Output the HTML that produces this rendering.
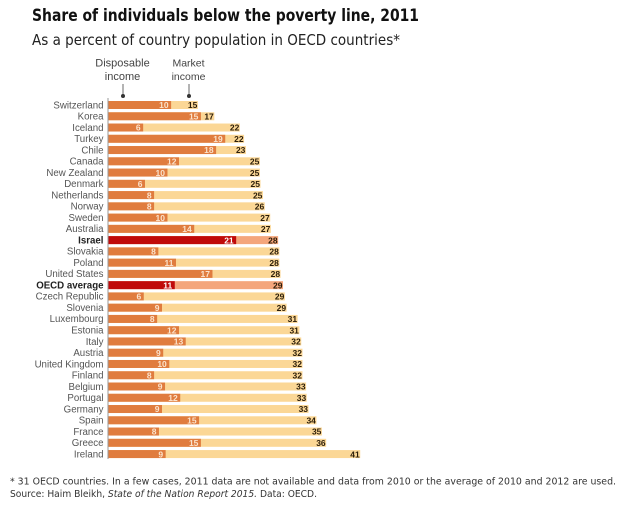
<!DOCTYPE html>
<html>
<head>
<meta charset="utf-8">
<style>
html,body{margin:0;padding:0;background:#fff;width:627px;height:507px;overflow:hidden}
svg{display:block;filter:blur(0.3px)}
text{font-family:"Liberation Sans",sans-serif}
text.wide{font-family:"DejaVu Sans",sans-serif}
</style>
</head>
<body>
<svg id="chart" width="627" height="507" viewBox="0 0 627 507" xmlns="http://www.w3.org/2000/svg">
  <text class="wide" x="32" y="21" font-size="16.500" font-weight="700" fill="#111" textLength="387" lengthAdjust="spacingAndGlyphs">Share of individuals below the poverty line, 2011</text>
  <text class="wide" x="32" y="45" font-size="15" fill="#222" textLength="368" lengthAdjust="spacingAndGlyphs">As a percent of country population in OECD countries*</text>
  <text x="122.500" y="66.500" font-size="11" fill="#444" text-anchor="middle">Disposable</text>
  <text x="122.500" y="80" font-size="11" fill="#444" text-anchor="middle">income</text>
  <text x="188.500" y="66.500" font-size="10.500" fill="#444" text-anchor="middle">Market</text>
  <text x="188.500" y="80" font-size="10.500" fill="#444" text-anchor="middle">income</text>
  <line x1="123" y1="84" x2="123" y2="96" stroke="#444" stroke-width="0.8"/>
  <circle cx="123" cy="96" r="2" fill="#333"/>
  <line x1="189" y1="84" x2="189" y2="96" stroke="#444" stroke-width="0.8"/>
  <circle cx="189" cy="96" r="2" fill="#333"/>
  <g id="bars"></g>
  <line x1="108" y1="98" x2="108" y2="459" stroke="#999" stroke-width="1"/>
  <text class="wide" x="10" y="484.500" font-size="9.500" fill="#333" textLength="606" lengthAdjust="spacingAndGlyphs">* 31 OECD countries. In a few cases, 2011 data are not available and data from 2010 or the average of 2010 and 2012 are used.</text>
  <text class="wide" x="10" y="497" font-size="9.500" fill="#333" textLength="307" lengthAdjust="spacingAndGlyphs">Source: Haim Bleikh, <tspan font-style="italic">State of the Nation Report 2015.</tspan> Data: OECD.</text>
</svg>
<script>
const countries = ["Switzerland","Korea","Iceland","Turkey","Chile","Canada","New Zealand","Denmark","Netherlands","Norway","Sweden","Australia","Israel","Slovakia","Poland","United States","OECD average","Czech Republic","Slovenia","Luxembourg","Estonia","Italy","Austria","United Kingdom","Finland","Belgium","Portugal","Germany","Spain","France","Greece","Ireland"];
const disposableIncome = [10.3,15.2,5.7,19.2,17.7,11.6,9.7,6.0,7.5,7.5,9.7,14.1,21.0,8.2,11.1,17.1,10.9,5.8,8.8,8.0,11.6,12.7,9.0,10.0,7.5,9.3,11.8,8.8,14.9,8.3,15.2,9.4];
const marketIncome = [14.7,17.4,21.6,22.3,22.6,24.9,24.9,25.0,25.4,25.7,26.6,26.7,27.9,28.1,28.1,28.3,28.7,29.0,29.3,31.1,31.4,31.7,31.9,31.9,31.9,32.5,32.6,32.9,34.2,35.1,35.8,41.4];
const highlighted = ["Israel","OECD average"];

const NS = "http://www.w3.org/2000/svg";
const group = document.getElementById("bars");
const xScale = v => 108.5 + v * 6.08;
const yScale = i => 105 + i * 11.26;

function addNode(tag, attrs, text) {
  const el = document.createElementNS(NS, tag);
  for (const k in attrs) el.setAttribute(k, attrs[k]);
  if (text !== undefined) el.textContent = text;
  group.appendChild(el);
  return el;
}

countries.forEach((name, i) => {
  const key = name.toLowerCase().replace(/ /g, "-");
  const hot = highlighted.includes(name);
  const cy = yScale(i);
  const top = cy - 4;
  const dEnd = xScale(disposableIncome[i]);
  const mEnd = xScale(marketIncome[i]);

  const label = addNode("text", {x: 103.500, y: cy + 3.300, "font-size": 9.700, fill: hot ? "#222" : "#555", "text-anchor": "end", "font-weight": hot ? 700 : 400}, name);
  
  

  const mBar = addNode("rect", {x: 108.500, y: top, width: mEnd - 108.500, height: 8, fill: hot ? "#f4a67c" : "#fbd796"});
  
  

  const dBar = addNode("rect", {x: 108.500, y: top, width: dEnd - 108.500, height: 8, fill: hot ? "#c00a0a" : "#e07c3e"});
  
  

  const dVal = addNode("text", {x: dEnd - 2.500, y: cy + 3.200, "font-size": 8.500, "font-weight": 700, fill: hot ? "#fff" : "#fbe3cc", "text-anchor": "end"}, Math.round(disposableIncome[i]));
  
  

  const mVal = addNode("text", {x: mEnd - 0.500, y: cy + 3.200, "font-size": 8.500, "font-weight": 700, fill: "#2a1c08", "text-anchor": "end"}, Math.round(marketIncome[i]));
  
  
});
</script>
</body>
</html>
